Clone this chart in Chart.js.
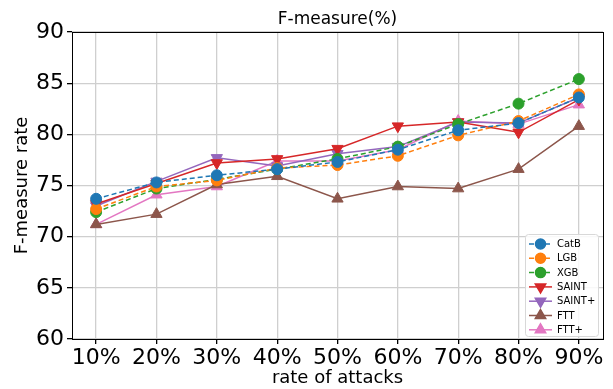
<!DOCTYPE html>
<html><head><meta charset="utf-8">
<script src="https://cdn.jsdelivr.net/npm/chart.js@4/dist/chart.umd.min.js"></script>
<style>html,body{margin:0;padding:0;background:#fff}#wrap{width:613px;height:389px}</style>
</head><body><div id="wrap"><canvas id="c" width="613" height="389"></canvas></div>
<script>
const categories = ["10%","20%","30%","40%","50%","60%","70%","80%","90%"];
const yTicks = [60,65,70,75,80,85,90];
const catB   = [73.7,75.3,76.0,76.6,77.3,78.5,80.4,81.1,83.6];
const lgb    = [72.7,74.9,75.5,76.7,77.0,77.9,79.9,81.3,83.9];
const xgb    = [72.4,74.7,75.6,76.6,77.6,78.8,81.0,83.0,85.4];
const saint  = [73.2,75.2,77.2,77.6,78.6,80.8,81.2,80.2,83.4];
const saintP = [73.0,75.4,77.7,76.9,78.1,78.8,81.2,81.1,83.6];
const ftt    = [71.2,72.2,75.1,75.9,73.7,74.9,74.7,76.6,80.8];
const fttP   = [71.2,74.1,74.9,77.4,77.4,78.5,81.3,81.0,82.9];

const pts = arr => arr.map((v,i)=>({x:i,y:v}));
function ds(label, data, color, style, rot, dashed){
  return {label, data:pts(data), borderColor:color, backgroundColor:color,
    borderWidth:1.5, borderDash: dashed?[5,3]:[], pointStyle:style, pointRotation:rot,
    pointRadius: style==='circle'?5.5:6.5, pointHoverRadius:6, pointBorderWidth:1,
    fill:false, tension:0};
}
const datasets = [
  ds("CatB", catB, "#1f77b4", "circle", 0, true),
  ds("LGB", lgb, "#ff7f0e", "circle", 0, true),
  ds("XGB", xgb, "#2ca02c", "circle", 0, true),
  ds("SAINT", saint, "#d62728", "triangle", 180, false),
  ds("SAINT+", saintP, "#9467bd", "triangle", 180, false),
  ds("FTT", ftt, "#8c564b", "triangle", 0, false),
  ds("FTT+", fttP, "#e377c2", "triangle", 0, false),
];

const deco = {
  id:'deco',
  afterDatasetsDraw(chart){
    const {ctx, chartArea:a} = chart;
    ctx.save();
    ctx.strokeStyle='#000'; ctx.lineWidth=1;
    ctx.strokeRect(a.left+0.5, a.top+0.5, a.right-a.left, a.bottom-a.top);
    // title
    ctx.fillStyle='#000'; ctx.font='17px "DejaVu Sans"'; ctx.textAlign='center'; ctx.textBaseline='alphabetic';
    ctx.fillText('F-measure(%)', (a.left+a.right)/2, 24);
    // legend
    const bx=525, by=234, bw=73, bh=102;
    ctx.fillStyle='rgba(255,255,255,0.85)'; ctx.strokeStyle='#d8d8d8'; ctx.lineWidth=1;
    ctx.beginPath(); ctx.roundRect(bx+0.5,by+0.5,bw,bh,3); ctx.fill(); ctx.stroke();
    chart.data.datasets.forEach((d,i)=>{
      const y = by+10+i*14.3;
      ctx.strokeStyle=d.borderColor; ctx.lineWidth=1.5; ctx.setLineDash(d.borderDash);
      ctx.beginPath(); ctx.moveTo(529,y); ctx.lineTo(552,y); ctx.stroke(); ctx.setLineDash([]);
      Chart.helpers.drawPoint(ctx,{pointStyle:d.pointStyle, rotation:d.pointRotation, radius:d.pointStyle==='circle'?5:6, borderWidth:1}, 540.5, y);
      ctx.fillStyle=d.borderColor; ctx.strokeStyle=d.borderColor;
      ctx.fill(); 
      ctx.fillStyle='#000'; ctx.font='10px "DejaVu Sans"'; ctx.textAlign='left'; ctx.textBaseline='middle';
      ctx.fillText(d.label, 557, y+0.5);
    });
    ctx.restore();
  }
};

new Chart(document.getElementById('c'), {
  type:'line',
  data:{datasets},
  plugins:[deco],
  options:{
    responsive:false, animation:false,
    layout:{padding:{top:32,right:10,left:0,bottom:0}},
    plugins:{legend:{display:false}, title:{display:false}, tooltip:{enabled:false}},
    scales:{
      x:{type:'linear', min:-0.4, max:8.4,
        afterBuildTicks:s=>{s.ticks=categories.map((_,i)=>({value:i}));},
        afterFit:s=>{s.height=50;},
        ticks:{callback:(v)=>categories[v], color:'#000', font:{size:22,family:'DejaVu Sans'}, padding:1, maxRotation:0, autoSkip:false},
        grid:{color:'#cfcfcf', lineWidth:1.3, tickLength:5, tickColor:'#000', drawTicks:true},
        border:{display:false},
        title:{display:true, text:'rate of attacks', color:'#000', font:{size:18,family:'DejaVu Sans'}, padding:{top:2,bottom:0}}
      },
      y:{min:60, max:90,
        afterBuildTicks:s=>{s.ticks=yTicks.map(v=>({value:v}));},
        afterFit:s=>{s.width=72;},
        ticks:{color:'#000', font:{size:22,family:'DejaVu Sans'}, padding:3},
        grid:{color:'#cfcfcf', lineWidth:1.3, tickLength:5, tickColor:'#000'},
        border:{display:false},
        title:{display:true, text:'F-measure rate', color:'#000', font:{size:18,family:'DejaVu Sans'}, padding:{top:12,bottom:0}}
      }
    }
  }
});
</script></body></html>
